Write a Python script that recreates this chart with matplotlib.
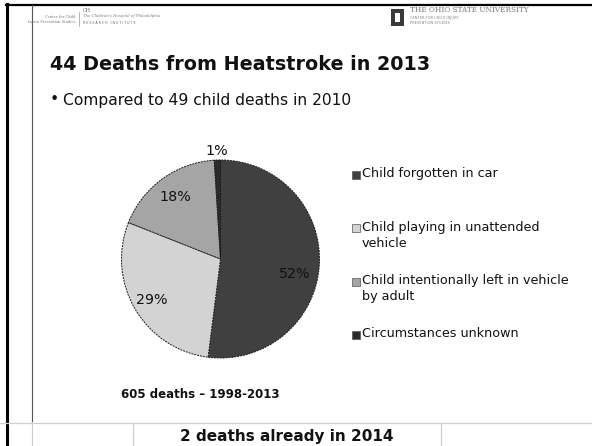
import matplotlib
matplotlib.use("Agg")
import matplotlib.pyplot as plt
from matplotlib.patches import Rectangle
import numpy as np

# data
categories = ["Child forgotten in car",
              "Child playing in unattended\nvehicle",
              "Child intentionally left in vehicle\nby adult",
              "Circumstances unknown"]
shares = [52, 29, 18, 1]
colors = ["#404040", "#d3d3d3", "#a5a5a5", "#2b2b2b"]

title = "44 Deaths from Heatstroke in 2013"
bullet = "Compared to 49 child deaths in 2010"
note = "605 deaths \u2013 1998-2013"
footer = "2 deaths already in 2014"

W, H = 592, 446
fig = plt.figure(figsize=(W / 100, H / 100), dpi=100)
fig.patch.set_facecolor("white")

# full slide canvas in pixel coords
bg = fig.add_axes([0, 0, 1, 1])
bg.set_xlim(0, W)
bg.set_ylim(H, 0)
bg.axis("off")

# slide frame lines
bg.plot([6.5, 6.5], [4, H], color="black", lw=2.2)
bg.plot([6, W], [5, 5], color="black", lw=1.6)
bg.plot([32, 32], [5, 422], color="#555555", lw=0.8)
bg.plot([32, 32], [422, H], color="#cccccc", lw=0.8)
bg.plot([0, W], [422.5, 422.5], color="#cfcfcf", lw=0.9)
bg.plot([133, 133], [422.5, H], color="#cfcfcf", lw=0.9)
bg.plot([441, 441], [422.5, H], color="#cfcfcf", lw=0.9)

# logos
bg.text(75, 16.5, "Center for Child", fontsize=2.6, color="#777777", ha="right", va="center", family="serif")
bg.text(75, 22.5, "Injury Prevention Studies", fontsize=2.6, color="#777777", ha="right", va="center", family="serif")
bg.plot([78.5, 78.5], [12, 26], color="#999999", lw=0.5)
bg.text(83, 10, "CH", fontsize=3.5, color="#666666", ha="left", va="center", family="serif")
bg.text(83, 16, "The Children's Hospital of Philadelphia", fontsize=2.8, color="#777777", ha="left", va="center", family="serif", style="italic")
bg.text(83, 22.5, "R E S E A R C H   I N S T I T U T E", fontsize=2.3, color="#666666", ha="left", va="center")
bg.add_patch(Rectangle((391, 9), 13, 17, facecolor="#3a3a3a", edgecolor="none"))
bg.add_patch(Rectangle((395, 13), 5, 9, facecolor="white", edgecolor="none"))
bg.text(410, 10.5, "THE OHIO STATE UNIVERSITY", fontsize=5.2, color="#777777", ha="left", va="center", family="serif")
bg.text(410, 18.5, "CENTER FOR CHILD INJURY", fontsize=2.6, color="#888888", ha="left", va="center")
bg.text(410, 23.5, "PREVENTION STUDIES", fontsize=2.6, color="#888888", ha="left", va="center")

# headings
bg.text(50, 64, title, fontsize=13.8, fontweight="bold", color="#111111", ha="left", va="center")
bg.text(50, 100, "\u2022", fontsize=11.2, color="#111111", ha="left", va="center")
bg.text(63, 100, bullet, fontsize=11.2, color="#111111", ha="left", va="center")
bg.text(200, 395, note, fontsize=8.5, fontweight="bold", color="#111111", ha="center", va="center")
bg.text(287, 437, footer, fontsize=11, fontweight="bold", color="#111111", ha="center", va="center")

# pie
cx, cy, r = 220.5, 259, 99
ax = fig.add_axes([(cx - r) / W, 1 - (cy + r) / H, 2 * r / W, 2 * r / H])
wedges, _ = ax.pie(shares, colors=colors, startangle=90, counterclock=False,
                   wedgeprops=dict(edgecolor="#1a1a1a", linewidth=0.7, linestyle=(0, (2, 1))))
ax.set_xlim(-1, 1)
ax.set_ylim(-1, 1)
ax.set_aspect("equal")
ax.axis("off")

label_r = [0.77, 0.81, 0.77, 1.09]
label_shift = [-8, 0, 0, 0]
for w, v, lr, sh in zip(wedges, shares, label_r, label_shift):
    ang = np.deg2rad((w.theta1 + w.theta2) / 2 + sh)
    ax.text(lr * np.cos(ang), lr * np.sin(ang), f"{v}%", fontsize=10.3, color="#111111",
            ha="center", va="center", clip_on=False)

# legend, equal slots like the office chart
for i, (lab, col) in enumerate(zip(categories, colors)):
    y = 175 + i * 53.3
    bg.add_patch(Rectangle((352, y - 4), 8, 8, facecolor=col, edgecolor="#555555", lw=0.5))
    bg.text(362, y - 7.5, lab, fontsize=9.2, color="#111111", ha="left", va="top", linespacing=1.3)

fig.savefig("out.png", dpi=100, facecolor="white")
